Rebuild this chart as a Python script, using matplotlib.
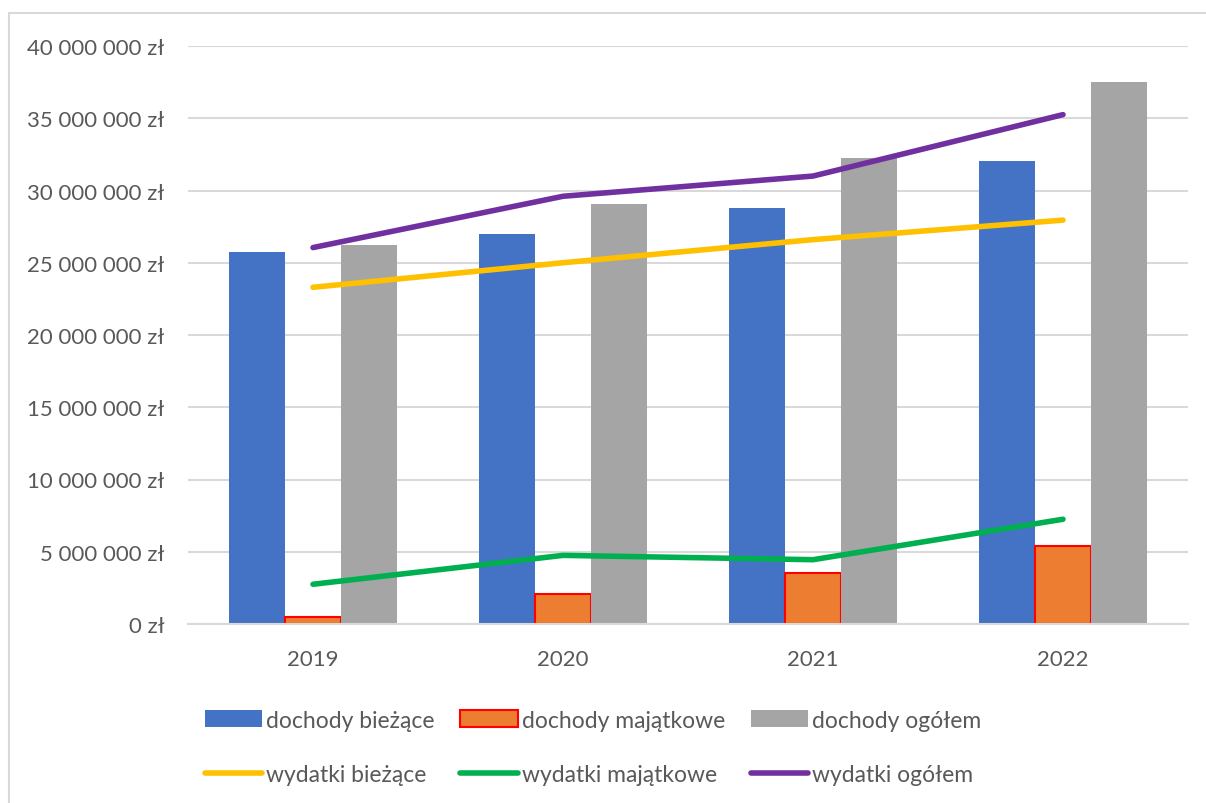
import matplotlib.pyplot as plt
from matplotlib.patches import Rectangle
from matplotlib.ticker import FuncFormatter
import numpy as np

plt.rcParams['font.family'] = ['Lato', 'DejaVu Sans']

years = ["2019", "2020", "2021", "2022"]
dochody_biezace = [25.75e6, 27.0e6, 28.8e6, 32.05e6]
dochody_majatkowe = [0.48e6, 2.08e6, 3.52e6, 5.4e6]
dochody_ogolem = [26.2e6, 29.05e6, 32.25e6, 37.5e6]
wydatki_biezace = [23.3e6, 25.0e6, 26.6e6, 27.95e6]
wydatki_majatkowe = [2.75e6, 4.75e6, 4.45e6, 7.25e6]
wydatki_ogolem = [26.05e6, 29.6e6, 31.0e6, 35.25e6]

text_col = "#595959"
grid_col = "#D9D9D9"

fig = plt.figure(figsize=(12.06, 8.04), dpi=100)
ax = fig.add_axes([188 / 1206, 1 - 625 / 804, 1000 / 1206, 578 / 804])

# chart frame
fig.patches.append(Rectangle((9 / 1206, -0.05), 1.1, 1 - 14 / 804 + 0.05,
                             transform=fig.transFigure, fill=False,
                             edgecolor=grid_col, linewidth=1.5))

x = np.arange(len(years))
w = 0.224
b1 = ax.bar(x - w, dochody_biezace, w, color="#4472C4", label="dochody bieżące", zorder=2)
b2 = ax.bar(x, dochody_majatkowe, w, color="#ED7D31", edgecolor="#FF0000",
            linewidth=1.5, label="dochody majątkowe", zorder=2)
b3 = ax.bar(x + w, dochody_ogolem, w, color="#A5A5A5", label="dochody ogółem", zorder=2)

l1, = ax.plot(x, wydatki_biezace, color="#FFC000", lw=4, solid_capstyle="round",
              label="wydatki bieżące", zorder=3)
l2, = ax.plot(x, wydatki_majatkowe, color="#00B050", lw=4, solid_capstyle="round",
              label="wydatki majątkowe", zorder=3)
l3, = ax.plot(x, wydatki_ogolem, color="#7030A0", lw=4, solid_capstyle="round",
              label="wydatki ogółem", zorder=3)

ax.set_xlim(-0.5, 3.5)
ax.set_ylim(0, 40e6)
ax.set_yticks(np.arange(0, 40e6 + 1, 5e6))
ax.yaxis.set_major_formatter(FuncFormatter(
    lambda v, p: "{:,.0f} zł".format(v).replace(",", " ")))
ax.set_xticks(x)
ax.set_xticklabels(years)

ax.grid(axis="y", color=grid_col, linewidth=1.5, zorder=0)
ax.set_axisbelow(True)
for s in ["top", "right", "left"]:
    ax.spines[s].set_visible(False)
ax.spines["bottom"].set_color(grid_col)
ax.spines["bottom"].set_linewidth(1.5)
ax.tick_params(axis="both", length=0, labelsize=16, colors=text_col)
ax.tick_params(axis="y", pad=17)
ax.tick_params(axis="x", pad=18)

handles = [b1, l1, b2, l2, b3, l3]
leg = fig.legend(handles, [h.get_label() for h in handles], ncol=3,
                 loc="upper left", bbox_to_anchor=(184 / 1206, 1 - 690 / 804),
                 frameon=False, fontsize=16.5, handlelength=2.5, handleheight=0.75,
                 handletextpad=0.2, columnspacing=1.1, labelspacing=1.45)
for t in leg.get_texts():
    t.set_color(text_col)

fig.savefig("out.png", dpi=100)
